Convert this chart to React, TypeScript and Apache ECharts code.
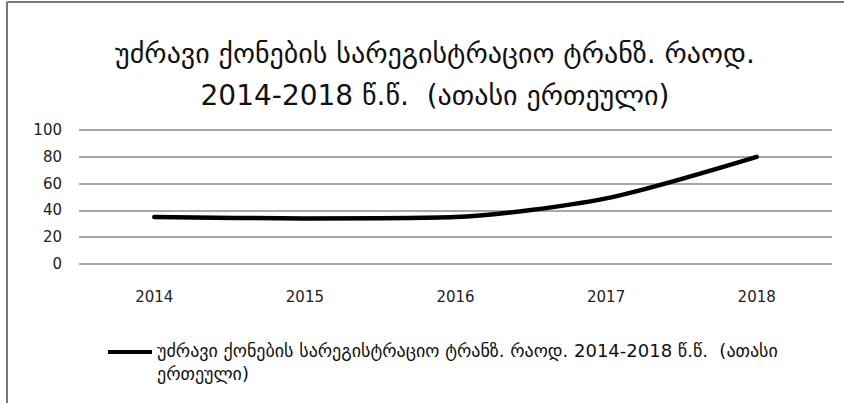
import React, { useEffect, useRef } from "react";
import * as echarts from "echarts";

const titleLines = ["უძრავი ქონების სარეგისტრაციო ტრანზ. რაოდ.", "2014-2018 წ.წ.  (ათასი ერთეული)"];
const seriesName = "უძრავი ქონების სარეგისტრაციო ტრანზ. რაოდ. 2014-2018 წ.წ.  (ათასი ერთეული)";
const legendLines = ["უძრავი ქონების სარეგისტრაციო ტრანზ. რაოდ. 2014-2018 წ.წ.  (ათასი", "ერთეული)"];
const years = ["2014", "2015", "2016", "2017", "2018"];
const values = [35, 34, 35, 49, 80];
const yTicks = { min: 0, max: 100, interval: 20 };

const FONT = "'DejaVu Sans', 'Noto Sans', sans-serif";

export default function App() {
  const ref = useRef<HTMLDivElement>(null);
  useEffect(() => {
    if (!ref.current) return;
    const chart = echarts.init(ref.current, null, { renderer: "svg" });
    chart.setOption({
      animation: false,
      backgroundColor: "#fff",
      title: {
        text: titleLines.join("\n"),
        left: 430,
        textAlign: "center",
        top: 27,
        textStyle: { fontFamily: FONT, fontSize: 28, fontWeight: "normal", color: "#111", lineHeight: 42 },
      },
      grid: { left: 79, right: 12, top: 130, bottom: 139 },
      xAxis: {
        type: "category",
        data: years,
        boundaryGap: true,
        axisLine: { show: false },
        axisTick: { show: false },
        axisLabel: { fontFamily: FONT, fontSize: 15, color: "#222", margin: 25 },
      },
      yAxis: {
        type: "value",
        min: yTicks.min,
        max: yTicks.max,
        interval: yTicks.interval,
        axisLine: { show: false },
        axisTick: { show: false },
        axisLabel: { fontFamily: FONT, fontSize: 15, color: "#222", margin: 17 },
        splitLine: { lineStyle: { color: "#8a8a8a", width: 1.5 } },
      },
      legend: {
        left: 103,
        top: 334,
        icon: "path://M0,0H44V4H0Z M0,23.9H0.05V24H0Z",
        itemWidth: 44,
        itemHeight: 24,
        itemGap: 0,
        data: [seriesName],
        formatter: () => legendLines.join("\n"),
        textStyle: { fontFamily: FONT, fontSize: 18, color: "#111", lineHeight: 23 },
      },
      series: [
        {
          name: seriesName,
          type: "line",
          data: values,
          smooth: 0.25,
          symbol: "none",
          lineStyle: { color: "#000", width: 4.5, cap: "round" },
          itemStyle: { color: "#000" },
        },
      ],
      graphic: [
        { type: "line", shape: { x1: 7, y1: 2, x2: 844, y2: 2 }, style: { stroke: "#777", lineWidth: 2 } },
        { type: "line", shape: { x1: 7, y1: 2, x2: 7, y2: 403 }, style: { stroke: "#777", lineWidth: 2 } },
      ],
    });
    return () => chart.dispose();
  }, []);
  return <div ref={ref} style={{ width: 844, height: 403, position: "absolute", left: 0, top: 0 }} />;
}
